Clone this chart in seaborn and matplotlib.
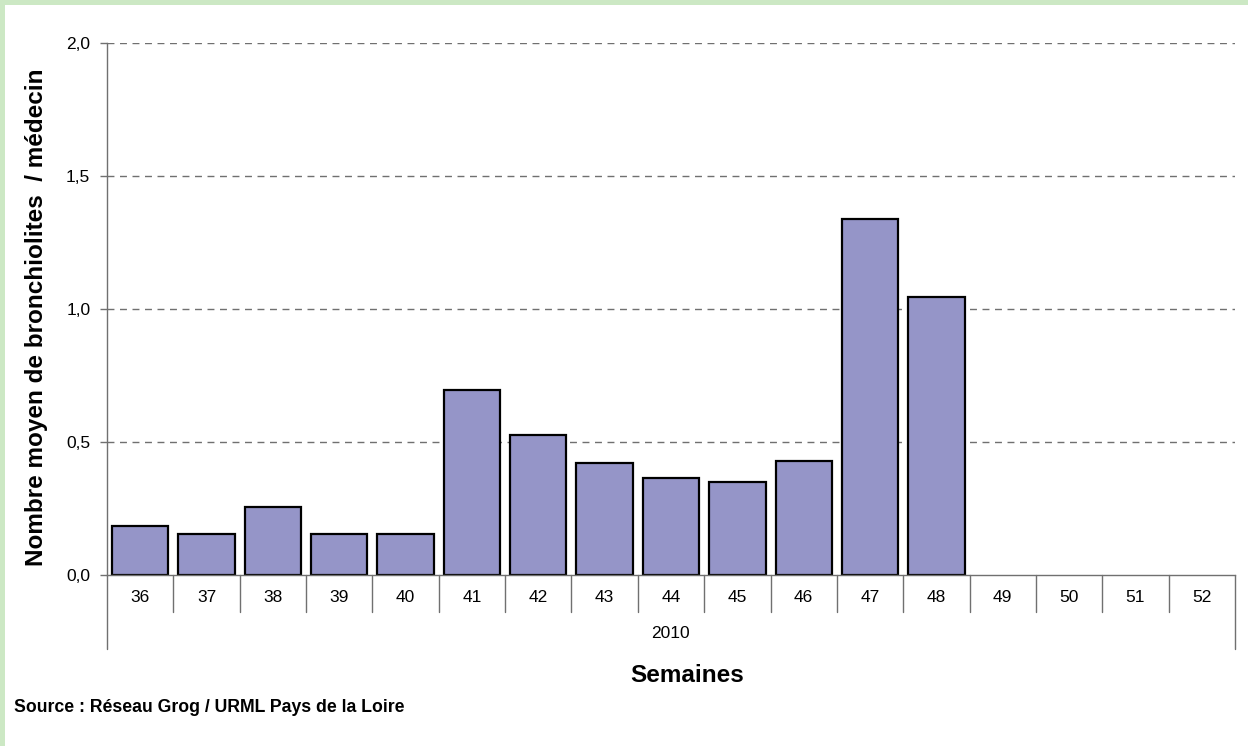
import matplotlib
matplotlib.use("Agg")
import matplotlib.pyplot as plt
import matplotlib.transforms as mtransforms
from matplotlib.patches import Rectangle
from matplotlib.ticker import FuncFormatter
import seaborn as sns
import numpy as np
import pandas as pd

weeks = ["36", "37", "38", "39", "40", "41", "42", "43", "44", "45", "46", "47", "48", "49", "50", "51", "52"]
values = [0.184, 0.153, 0.257, 0.153, 0.153, 0.695, 0.526, 0.422, 0.365, 0.348, 0.429, 1.338, 1.044,
          np.nan, np.nan, np.nan, np.nan]
yticks = [0.0, 0.5, 1.0, 1.5, 2.0]
year_label = "2010"
ylabel = "Nombre moyen de bronchiolites  / médecin"
xlabel = "Semaines"
source = "Source : Réseau Grog / URML Pays de la Loire"

sns.set_style("white")
plt.rcParams['font.family'] = ['Liberation Sans', 'DejaVu Sans']
plt.rcParams['text.color'] = 'black'
plt.rcParams['axes.labelcolor'] = 'black'
plt.rcParams['xtick.color'] = 'black'
plt.rcParams['ytick.color'] = 'black'

W, H = 1248, 746
fig = plt.figure(figsize=(W / 100, H / 100), dpi=100)
fig.patch.set_facecolor("white")
ax = fig.add_axes([107 / W, 1 - 575 / H, (1235 - 107) / W, (575 - 43) / H])

df = pd.DataFrame({"week": weeks, "value": values})
sns.barplot(data=df, x="week", y="value", order=weeks, color="#9595C8", saturation=1,
            edgecolor="black", linewidth=1.6, width=0.85, ax=ax)

ax.set_xlim(-0.5, len(weeks) - 0.5)
ax.set_ylim(0, 2.0)
ax.set_yticks(yticks)
ax.yaxis.set_major_formatter(FuncFormatter(lambda v, p: f"{v:.1f}".replace(".", ",")))
for y in yticks[1:]:
    ax.axhline(y, color="#707070", linestyle=(0, (5, 4)), linewidth=1.0, zorder=0)

for s in ["top", "right"]:
    ax.spines[s].set_visible(False)
for s in ["left", "bottom"]:
    ax.spines[s].set_color("#707070")
    ax.spines[s].set_linewidth(1.0)

ax.tick_params(axis="y", length=5, width=1.0, color="#707070", labelcolor="black",
               labelsize=12.5, pad=7, left=True)
ax.tick_params(axis="x", length=0, labelsize=12.5, pad=11, labelcolor="black")
ax.set_xlabel("")
ax.set_ylabel("")

# category separators below axis
trans = mtransforms.blended_transform_factory(ax.transData, ax.transAxes)
ax_h_px = 575 - 43
for i in range(len(weeks) + 1):
    x = i - 0.5
    depth = 74 if i in (0, len(weeks)) else 37
    ax.plot([x, x], [0, -depth / ax_h_px], transform=trans, color="#707070",
            linewidth=1.0, clip_on=False)

fig.text(37 / W, 1 - 317 / H, ylabel, rotation=90, ha="center", va="center",
         fontsize=17.5, fontweight="bold")
fig.text(670 / W, 1 - 634 / H, year_label, ha="center", va="center", fontsize=12.5)
fig.text(687 / W, 1 - 675 / H, xlabel, ha="center", va="center",
         fontsize=17.5, fontweight="bold")
fig.text(14 / W, 1 - 708 / H, source, ha="left", va="center", fontsize=12.7, fontweight="bold")

green = "#CCE8C4"
fig.patches.append(Rectangle((0, 1 - 5 / H), 1, 5 / H, transform=fig.transFigure,
                             facecolor=green, edgecolor="none", zorder=-1))
fig.patches.append(Rectangle((0, 0), 5 / W, 1, transform=fig.transFigure,
                             facecolor=green, edgecolor="none", zorder=-1))

fig.savefig("out.png", dpi=100, facecolor="white")
